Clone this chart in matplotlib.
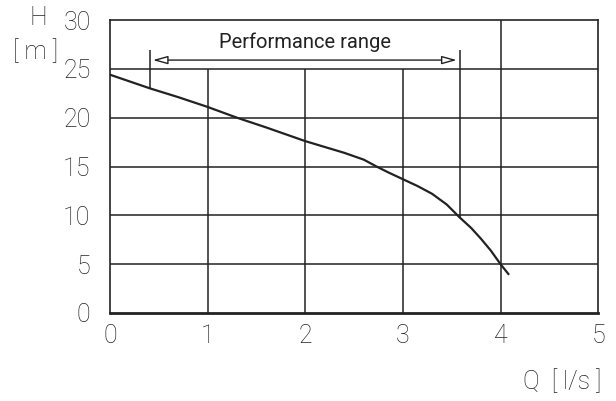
import matplotlib

matplotlib.use('Agg')
import matplotlib.pyplot as plt
from matplotlib.patches import FancyArrowPatch

# pump curve Q [l/s] -> H [m]
q = [0.0, 0.41, 0.7, 1.0, 1.3, 1.6, 2.0, 2.2, 2.4, 2.6, 2.73, 2.85, 3.0, 3.15, 3.3, 3.45, 3.58, 3.7, 3.8, 3.9, 4.0, 4.08]
h = [24.4, 23.0, 22.1, 21.1, 20.0, 19.0, 17.6, 17.0, 16.4, 15.7, 15.0, 14.4, 13.7, 13.0, 12.2, 11.1, 9.8, 8.7, 7.6, 6.4, 5.0, 4.0]

x_ticks = [0, 1, 2, 3, 4, 5]
y_ticks = [0, 5, 10, 15, 20, 25, 30]
range_start, range_end = 0.41, 3.58
range_label = 'Performance range'

plt.rcParams['font.family'] = ['Roboto', 'DejaVu Sans']
ink = '#222222'

fig = plt.figure(figsize=(6.16, 4.01), dpi=100)
ax = fig.add_axes([0.1786, 0.2195, 0.7924, 0.7305])
ax.set_xlim(0, 5)
ax.set_ylim(0, 30)

# grid: horizontal full width, verticals 1-3 only up to 25
for y in y_ticks[1:-1]:
    ax.hlines(y, 0, 5, color=ink, lw=1.1)
for x in x_ticks[1:4]:
    ax.vlines(x, 0, 25, color=ink, lw=1.1)
ax.vlines(x_ticks[4], 0, 30, color=ink, lw=1.1)

# performance range markers
ax.vlines(range_start, 23.0, 26.9, color=ink, lw=1.1)
ax.vlines(range_end, 9.8, 26.9, color=ink, lw=1.1)
arr = FancyArrowPatch((range_start, 25.9), (range_end, 25.9),
                      arrowstyle='<|-|>,head_length=9,head_width=2.5',
                      mutation_scale=1, fc='white', ec=ink, lw=1.0)
ax.add_patch(arr)
ax.text(2.0, 27.7, range_label, ha='center', va='center', fontsize=14.5,
        color=ink, fontstretch='condensed')

ax.plot(q, h, color=ink, lw=1.6)

for s in ax.spines.values():
    s.set_color(ink)
    s.set_linewidth(1.2)
ax.spines['bottom'].set_linewidth(2.0)

ax.set_xticks(x_ticks)
ax.set_yticks(y_ticks)
ax.tick_params(length=0, labelsize=18, colors=ink, pad=8)
ax.tick_params(axis='y', pad=14)
for lab in ax.get_xticklabels() + ax.get_yticklabels():
    lab.set_fontweight('light')

fig.text(38 / 616, 1 - 18 / 401, 'H', ha='center', va='center', fontsize=18,
         color=ink, fontweight='light')
fig.text(36 / 616, 1 - 52 / 401, '[ m ]', ha='center', va='center', fontsize=18,
         color=ink, fontweight='light')
fig.text(562 / 616, 1 - 382 / 401, 'Q  [ l/s ]', ha='center', va='center', fontsize=18,
         color=ink, fontweight='light')

plt.savefig('out.png', dpi=100)
